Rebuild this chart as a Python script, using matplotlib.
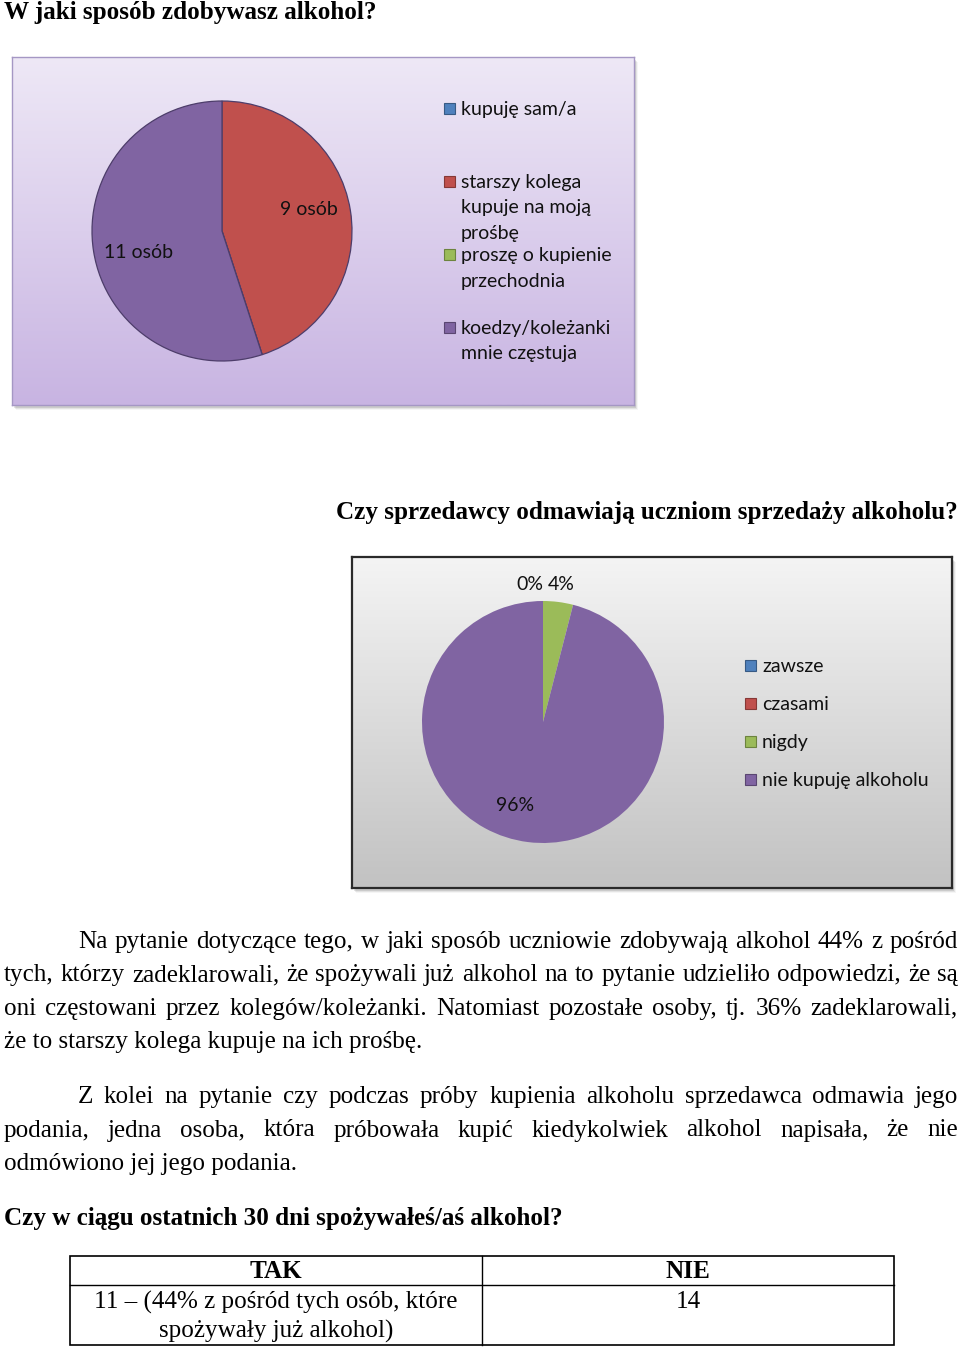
import matplotlib
matplotlib.use("Agg")
import matplotlib.pyplot as plt
import numpy as np
from matplotlib.colors import LinearSegmentedColormap, to_rgb
from matplotlib.patches import Rectangle

W, H = 960, 1349
SERIF = "Liberation Serif"
SANS = "Lato"

# ---- data -----------------------------------------------------------------
TITLE_1 = "W jaki sposób zdobywasz alkohol?"
Q1_LABELS = [
    "kupuję sam/a",
    "starszy kolega\nkupuje na moją\nprośbę",
    "proszę o kupienie\nprzechodnia",
    "koedzy/koleżanki\nmnie częstuja",
]
Q1_COUNTS = [0, 9, 0, 11]

TITLE_2 = "Czy sprzedawcy odmawiają uczniom sprzedaży alkoholu?"
Q2_LABELS = ["zawsze", "czasami", "nigdy", "nie kupuję alkoholu"]
Q2_PCT = [0, 0, 4, 96]

PALETTE = ["#4F81BD", "#C0504D", "#9BBB59", "#8064A2"]

PARA_1 = [
    "Na pytanie dotyczące tego, w jaki sposób uczniowie zdobywają alkohol 44% z pośród",
    "tych, którzy zadeklarowali, że spożywali już alkohol na to pytanie udzieliło odpowiedzi, że są",
    "oni częstowani przez kolegów/koleżanki. Natomiast pozostałe osoby, tj. 36% zadeklarowali,",
    "że to starszy kolega kupuje na ich prośbę.",
]
PARA_2 = [
    "Z kolei na pytanie czy podczas próby kupienia alkoholu sprzedawca odmawia jego",
    "podania, jedna osoba, która próbowała kupić kiedykolwiek alkohol napisała, że nie",
    "odmówiono jej jego podania.",
]

TITLE_3 = "Czy w ciągu ostatnich 30 dni spożywałeś/aś alkohol?"
TABLE_HEAD = ["TAK", "NIE"]
TABLE_ROW = ["11 – (44% z pośród tych osób, które\nspożywały już alkohol)", "14"]


def px_rect(x, y, w, h):
    return [x / W, 1 - (y + h) / H, w / W, h / H]


def darker(c, f=0.7):
    r, g, b = to_rgb(c)
    return (r * f, g * f, b * f)


fig = plt.figure(figsize=(W / 100, H / 100), dpi=100)
renderer = fig.canvas.get_renderer()

page = fig.add_axes([0, 0, 1, 1])
page.set_xlim(0, W)
page.set_ylim(H, 0)
page.axis("off")


def text_width(s, size, **kw):
    t = page.text(0, 0, s, fontsize=size, **kw)
    w = t.get_window_extent(renderer).width
    t.remove()
    return w


BODY = 18.1
LEG = 10 * 167 / text_width("nie kupuję alkoholu", 10, family=SANS)


def justify(line, x0, x1, y):
    words = line.split(" ")
    texts = [page.text(0, y, w, fontsize=BODY, family=SERIF, va="baseline") for w in words]
    widths = [t.get_window_extent(renderer).width for t in texts]
    gap = (x1 - x0 - sum(widths)) / (len(words) - 1)
    x = x0
    for t, w in zip(texts, widths):
        t.set_x(x)
        x += w + gap


def chart_box(x, y, w, h, top, bottom, edge, lw):
    for i, a in enumerate([0.10, 0.07, 0.04]):
        page.add_patch(Rectangle((x + 2 + i, y + 3 + i), w, h, color="black", alpha=a, lw=0))
    bg = fig.add_axes(px_rect(x, y, w, h))
    cmap = LinearSegmentedColormap.from_list("g", [top, bottom])
    bg.imshow(np.linspace(0, 1, 256)[:, None], aspect="auto", cmap=cmap, extent=[0, 1, 0, 1])
    bg.set_xticks([])
    bg.set_yticks([])
    for s in bg.spines.values():
        s.set_edgecolor(edge)
        s.set_linewidth(lw)


def pie_axes(cx, cy, r):
    s = 2.5 * r
    ax = fig.add_axes(px_rect(cx - s / 2, cy - s / 2, s, s))
    return ax


def pie_labels(ax, positions, texts):
    seen = set()
    for (lx, ly), t in zip(positions, texts):
        if t and (lx, ly) not in seen:
            seen.add((lx, ly))
            ax.text(lx, ly, t, fontsize=LEG, family=SANS, ha="center", va="center", color="#111111")


# ---- heading 1 + chart 1 ----------------------------------------------------
page.text(4, 13, TITLE_1, fontsize=BODY, family=SERIF, weight="bold", va="center")

chart_box(12, 57, 622, 348, "#eee8f6", "#c8b4e2", "#a597c4", 1.0)
ax1 = pie_axes(222, 231, 130)
ax1.pie(Q1_COUNTS, colors=PALETTE, startangle=90, counterclock=False,
        wedgeprops=dict(linewidth=0.9, edgecolor="#4d3d6a"))
ax1.set_xlim(-1.25, 1.25)
ax1.set_ylim(-1.25, 1.25)
pie_labels(ax1, [(0, 0), (0.669, 0.162), (0, 0), (-0.638, -0.169)],
           [f"{n} osób" if n else "" for n in Q1_COUNTS])

# ---- heading 2 + chart 2 ----------------------------------------------------
page.text(958, 512, TITLE_2, fontsize=BODY, family=SERIF, weight="bold", va="center", ha="right")

chart_box(352, 557, 600, 331, "#f4f4f4", "#c2c2c2", "#2a2a2a", 1.6)
ax2 = pie_axes(543, 722, 121)
ax2.pie(Q2_PCT, colors=PALETTE, startangle=90, counterclock=False,
        wedgeprops=dict(linewidth=0))
ax2.set_xlim(-1.25, 1.25)
ax2.set_ylim(-1.25, 1.25)
pie_labels(ax2, [(-0.107, 1.14), (-0.107, 1.14), (0.149, 1.14), (-0.231, -0.686)],
           [f"{p}%" for p in Q2_PCT])

# ---- legends (on an overlay above the chart boxes) ----------------------------
over = fig.add_axes([0, 0, 1, 1])
over.set_xlim(0, W)
over.set_ylim(H, 0)
over.axis("off")


def legend(x, ys, labels, step):
    for y, lab, c in zip(ys, labels, PALETTE):
        over.add_patch(Rectangle((x, y - 5.5), 11, 11, facecolor=c, edgecolor=darker(c), lw=0.8))
        for i, line in enumerate(lab.split("\n")):
            over.text(x + 17, y + 1.5 + i * step, line, fontsize=LEG, family=SANS,
                      va="center", color="#111111")


legend(444, [108, 181, 254, 327], Q1_LABELS, 25.5)
legend(745, [665, 703, 741, 779], Q2_LABELS, 25.5)

# ---- paragraphs ---------------------------------------------------------------
for i, line in enumerate(PARA_1):
    y = 948 + i * 33.4
    x0 = 78 if i == 0 else 4
    if i < len(PARA_1) - 1:
        justify(line, x0, 958, y)
    else:
        page.text(x0, y, line, fontsize=BODY, family=SERIF, va="baseline")

for i, line in enumerate(PARA_2):
    y = 1103 + i * 33.5
    x0 = 78 if i == 0 else 4
    if i < len(PARA_2) - 1:
        justify(line, x0, 958, y)
    else:
        page.text(x0, y, line, fontsize=BODY, family=SERIF, va="baseline")

# ---- heading 3 + table ------------------------------------------------------
page.text(4, 1218, TITLE_3, fontsize=BODY, family=SERIF, weight="bold", va="center")

tx0, tx1, tmid = 70, 894, 482
ty0, ty1, trow = 1256, 1345, 1285
page.add_patch(Rectangle((tx0, ty0), tx1 - tx0, ty1 - ty0, fill=False, edgecolor="black", lw=1.2))
page.plot([tmid, tmid], [ty0, ty1], color="black", lw=1.0)
page.plot([tx0, tx1], [trow, trow], color="black", lw=1.0)
col_centers = [(tx0 + tmid) / 2, (tmid + tx1) / 2]
for cx, head, cell in zip(col_centers, TABLE_HEAD, TABLE_ROW):
    page.text(cx, 1272, head, fontsize=BODY, family=SERIF, weight="bold", ha="center", va="center")
    for i, line in enumerate(cell.split("\n")):
        page.text(cx, 1302 + i * 29, line, fontsize=BODY, family=SERIF, ha="center", va="center")

fig.savefig("out.png", dpi=100, facecolor="white")
